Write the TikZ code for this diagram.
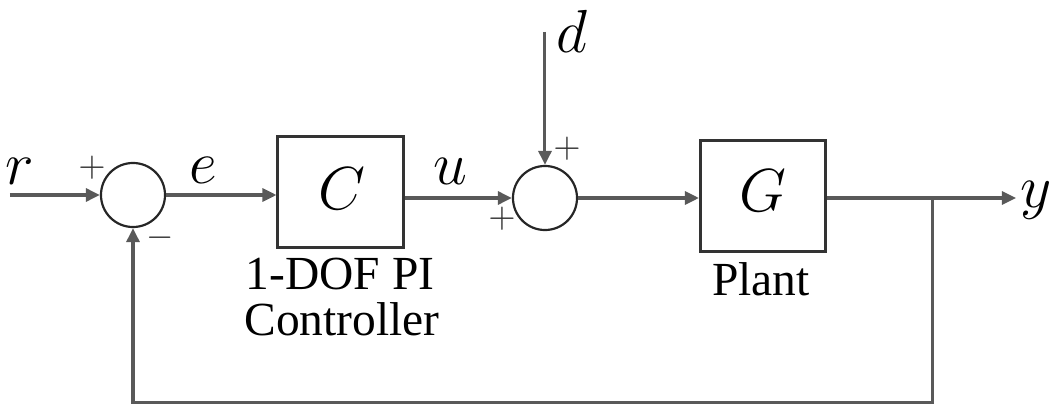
\documentclass[tikz,border=0pt]{standalone}
\usepackage{fontspec}
\setmainfont{Liberation Serif}
\usetikzlibrary{arrows.meta}
\begin{document}
\begin{tikzpicture}[x=0.01cm,y=-0.01cm,
  wire/.style={draw=black!65,line width=0.03cm},
  arr/.style={wire,-{Triangle[length=0.14cm,width=0.13cm]}},
  sumnode/.style={circle,draw=black!85,line width=0.022cm,minimum size=0.64cm,inner sep=0pt},
  blk/.style={rectangle,draw=black!80,line width=0.03cm,minimum width=1.25cm,minimum height=1.1cm,inner sep=0pt},
  mlab/.style={inner sep=0pt,anchor=base,font=\fontsize{17}{20}\selectfont},
  tlab/.style={inner sep=0pt,anchor=base,font=\fontsize{13.5}{16}\selectfont},
  sgn/.style={inner sep=0pt,text=black!80,font=\fontsize{10}{11}\selectfont}]
\useasboundingbox (0,0) rectangle (1056,406);
% nodes
\coordinate (rin) at (10,195);
\node[sumnode] (s1) at (133,195) {};
\node[blk] (C) at (340.5,192) {};
\node[mlab] at (342,210) {$C$};
\node[sumnode] (s2) at (545,198) {};
\node[blk] (G) at (763,196) {};
\node[mlab] at (763,212) {$G$};
\coordinate (dtop) at (545,32);
\coordinate (br) at (933,198);
\coordinate (yout) at (1016,198);
\coordinate (fbr) at (933,403);
\coordinate (fbl) at (133,403);
% labels
\node[mlab] (rl) at (20,185) {$r$};
\node[mlab] (el) at (203,183) {$e$};
\node[mlab] (ul) at (450,185) {$u$};
\node[mlab] (dl) at (572,52) {$d$};
\node[mlab] (yl) at (1036,208) {$y$};
\node[tlab] (c1) at (340,290) {1-DOF PI};
\node[tlab] (c2) at (342,336) {Controller};
\node[tlab] (pl) at (761,295) {Plant};
\node[sgn] (p1) at (92,168) {$+$};
\node[sgn] (m1) at (160,238) {$-$};
\node[sgn] (p2) at (567,149) {$+$};
\node[sgn] (p3) at (502,219) {$+$};
% connectors
\draw[arr] (rin) -- (s1.west);
\draw[arr] (s1.east) -- (C.west |- s1.east);
\draw[arr] (C.east |- s2.west) -- (s2.west);
\draw[arr] (dtop) -- (s2.north);
\draw[arr] (s2.east) -- (G.west |- s2.east);
\draw[wire] (G.east |- br) -- (br);
\draw[arr] (br) -- (yout);
\draw[arr] (br) -- (fbr) -- (fbl) -- (s1.south);
\end{tikzpicture}
\end{document}
